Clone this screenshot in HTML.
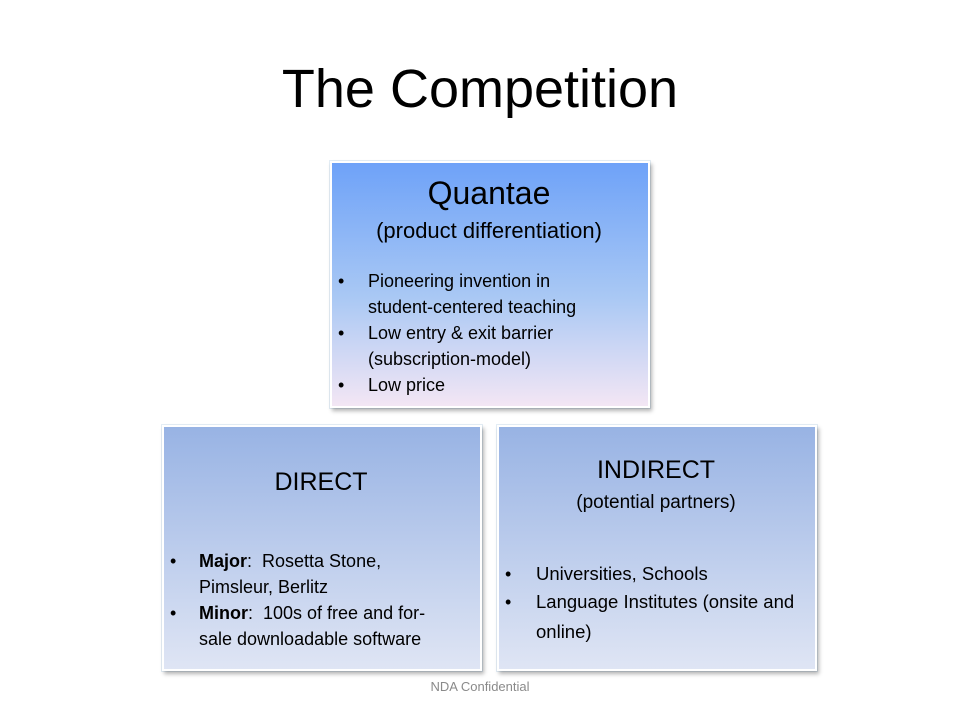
<!DOCTYPE html>
<html><head><meta charset="utf-8"><style>
body{margin:0;width:960px;height:720px;background:#fff;position:relative;overflow:hidden;font-family:"Liberation Sans",sans-serif;color:#000}
.a{position:absolute;white-space:nowrap}
.box{position:absolute;border:2px solid #fff;box-shadow:2px 3px 4px rgba(0,0,0,.3),0 0 0 1px #e4eef6}
.b{position:absolute;font-size:18px;line-height:26px}
</style></head><body>
<div class="a" style="left:0;width:960px;text-align:center;top:58px;font-size:54px">The Competition</div>

<div class="box" style="left:330px;top:161px;width:316px;height:243px;background:linear-gradient(#6ea2f8,#a9c8f4 55%,#f3e6f4)"></div>
<div class="a" style="left:330px;width:318px;text-align:center;top:175px;font-size:32px">Quantae</div>
<div class="a" style="left:330px;width:318px;text-align:center;top:218px;font-size:22px">(product differentiation)</div>
<div>
<div class="b" style="left:338px;top:268px">•</div><div class="a" style="left:368px;top:268px;font-size:18px;line-height:26px">Pioneering invention in<br>student-centered teaching</div>
<div class="b" style="left:338px;top:320px">•</div><div class="a" style="left:368px;top:320px;font-size:18px;line-height:26px">Low entry &amp; exit barrier<br>(subscription-model)</div>
<div class="b" style="left:338px;top:372px">•</div><div class="a" style="left:368px;top:372px;font-size:18px;line-height:26px">Low price</div>
</div>

<div class="box" style="left:162px;top:425px;width:316px;height:242px;background:linear-gradient(#98b3e4,#dfe5f4)"></div>
<div class="a" style="left:162px;width:318px;text-align:center;top:468px;font-size:25px">DIRECT</div>
<div>
<div class="b" style="left:170px;top:548px">•</div><div class="a" style="left:199px;top:548px;font-size:18px;line-height:26px"><b>Major</b>:&nbsp; Rosetta Stone,<br>Pimsleur, Berlitz</div>
<div class="b" style="left:170px;top:600px">•</div><div class="a" style="left:199px;top:600px;font-size:18px;line-height:26px"><b>Minor</b>:&nbsp; 100s of free and for-<br>sale downloadable software</div>
</div>

<div class="box" style="left:497px;top:425px;width:316px;height:242px;background:linear-gradient(#98b3e4,#dfe5f4)"></div>
<div class="a" style="left:497px;width:318px;text-align:center;top:456px;font-size:25px">INDIRECT</div>
<div class="a" style="left:497px;width:318px;text-align:center;top:492px;font-size:19px">(potential partners)</div>
<div>
<div class="b" style="left:505px;top:561px">•</div><div class="a" style="left:536px;top:561px;font-size:18.5px;line-height:26px">Universities, Schools</div>
<div class="b" style="left:505px;top:587px;line-height:30px">•</div><div class="a" style="left:536px;top:587px;font-size:18.5px;line-height:30px">Language Institutes (onsite and<br>online)</div>
</div>

<div class="a" style="left:0;width:960px;text-align:center;top:679px;font-size:13px;color:#8a8a8a">NDA Confidential</div>
</body></html>
